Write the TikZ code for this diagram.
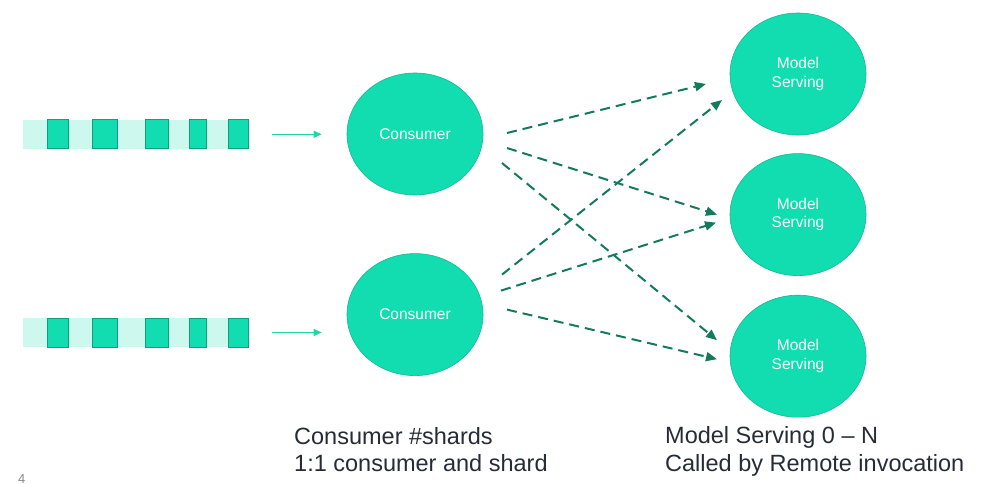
\documentclass[tikz,border=0pt]{standalone}
\usepackage{fontspec}
\setmainfont{Liberation Sans}
\usetikzlibrary{arrows.meta,positioning,shapes.geometric}

\definecolor{mint}{HTML}{11DDB0}
\definecolor{mintedge}{HTML}{16B891}
\definecolor{mintlight}{HTML}{CCF8EE}
\definecolor{slotedge}{HTML}{0FA07E}
\definecolor{feedcol}{HTML}{1ED8AC}
\definecolor{callcol}{HTML}{137A5C}
\definecolor{ink}{HTML}{262C36}
\definecolor{pagegray}{HTML}{8A8A8A}

\begin{document}
\begin{tikzpicture}[x=1pt,y=-1pt,
    blob/.style={ellipse, draw=mintedge, line width=0.6pt, fill=mint, minimum width=136pt, minimum height=122pt, inner sep=0pt, text=white, align=center, font=\fontsize{15.5}{18.5}\selectfont},
    queue/.style={rectangle, fill=mintlight, minimum width=225.7pt, minimum height=28.7pt, inner sep=0pt, anchor=west},
    feed/.style={draw=feedcol, line width=1pt, -{Triangle[length=8pt,width=7pt]}, shorten <=23pt, shorten >=25pt},
    call/.style={color=callcol, line width=2pt, dash pattern=on 10pt off 6pt, -{Triangle[length=11pt,width=9pt]}},
    caption/.style={anchor=base west, align=left, inner sep=0pt, text=ink, font=\fontsize{23.5}{27.4}\selectfont}]

    \useasboundingbox (0,0) rectangle (991,484);

    % consumers and model servers
    \node [blob] (c1) at (415,134) {Consumer};
    \node [blob, below=58pt of c1] (c2) {Consumer};
    \node [blob] (m1) at (798,74) {Model\\Serving};
    \node [blob, below=18pt of m1] (m2) {Model\\Serving};
    \node [blob, below=19pt of m2] (m3) {Model\\Serving};

    % shard queues
    \node [queue] (q1) at (23,134.3) {};
    \node [queue] (q2) at (23,332.5) {};
    \foreach \q in {q1,q2}
        \foreach \a/\b in {24.3/45.7, 69.3/94.7, 122/145.7, 166/183.7, 205.3/225.7}
            \draw [draw=slotedge, fill=mint, line width=0.8pt] ([xshift=\a pt]\q.north west) rectangle ([xshift=\b pt]\q.south west);

    \draw [feed] (q1.east) -- (q1.east -| c1.west);
    \draw [feed] (q2.east) -- (q2.east -| c2.west);

    % remote calls
    \path [call] ([shift={(92,-1)}]c1.center) edge ([shift={(-92,10)}]m1.center)
        ([shift={(92,14)}]c1.center) edge ([shift={(-81,0)}]m2.center)
        ([shift={(87,29)}]c1.center) edge ([shift={(-81,-16)}]m3.center)
        ([shift={(87,-40)}]c2.center) edge ([shift={(-76,26)}]m1.center)
        ([shift={(86,-24)}]c2.center) edge ([shift={(-82,8)}]m2.center)
        ([shift={(92,-5)}]c2.center) edge ([shift={(-81,3)}]m3.center);

    \node [caption] (capc) at (294,471.7) {Consumer \#shards\\1:1 consumer and shard};
    \node [caption] (capm) at (665,471) {Model Serving 0 -- N\\Called by Remote invocation};
    \node [anchor=base west, inner sep=0pt, text=pagegray, font=\fontsize{13}{15}\selectfont] (pg) at (18,483) {4};
\end{tikzpicture}
\end{document}
